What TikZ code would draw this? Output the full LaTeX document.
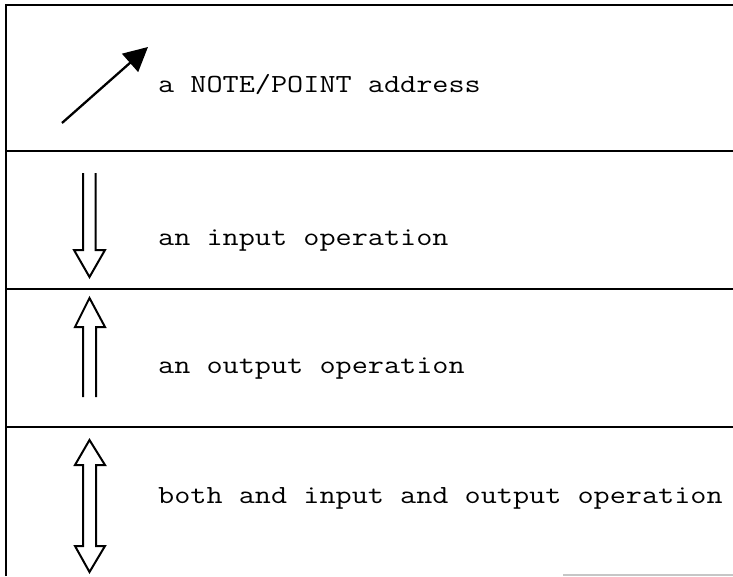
\documentclass[tikz,border=0pt]{standalone}
\usepackage{fontspec}
\newfontfamily\courlike[FakeStretch=1.2]{Latin Modern Mono}
\usetikzlibrary{arrows.meta}
\begin{document}
\begin{tikzpicture}[x=1pt,y=-1pt,
  rule/.style={line width=2pt},
  openarrow/.style={line width=2pt, line join=miter},
  txt/.style={font=\courlike\fontsize{26.1}{30}\selectfont, anchor=base west, inner sep=0pt}]
\useasboundingbox (0,0) rectangle (733,576);
% frame and separators
\draw[rule] (6,576) -- (6,5) -- (733,5);
\draw[rule] (6,150.7) -- (733,150.7);
\draw[rule] (6,288.5) -- (733,288.5);
\draw[rule] (6,426.5) -- (733,426.5);
\draw[gray!45, line width=1.5pt] (563,575) -- (733,575);
% NOTE/POINT arrow
\draw[line width=2.3pt, -{Triangle[length=24pt,width=24pt]}] (62,123) -- (148,47);
% input arrow (down)
\draw[openarrow] (83,173) -- (83,250) -- (74,250) -- (89.5,277) -- (105,250) -- (95.5,250) -- (95.5,173);
% output arrow (up)
\draw[openarrow] (83,397) -- (83,327) -- (75,327) -- (89.5,298) -- (105,327) -- (96,327) -- (96,397);
% both arrow
\draw[openarrow] (83,465) -- (83,546) -- (75,546) -- (89.5,572) -- (105,546) -- (96,546) -- (96,465) -- (105,465) -- (89.5,440) -- (75,465) -- cycle;
% texts
\node[txt] (t1) at (158,92) {a NOTE/POINT address};
\node[txt] (t2) at (158,245.5) {an input operation};
\node[txt] (t3) at (158,373.5) {an output operation};
\node[txt] (t4) at (158,503.5) {both and input and output operation};
\end{tikzpicture}
\end{document}
